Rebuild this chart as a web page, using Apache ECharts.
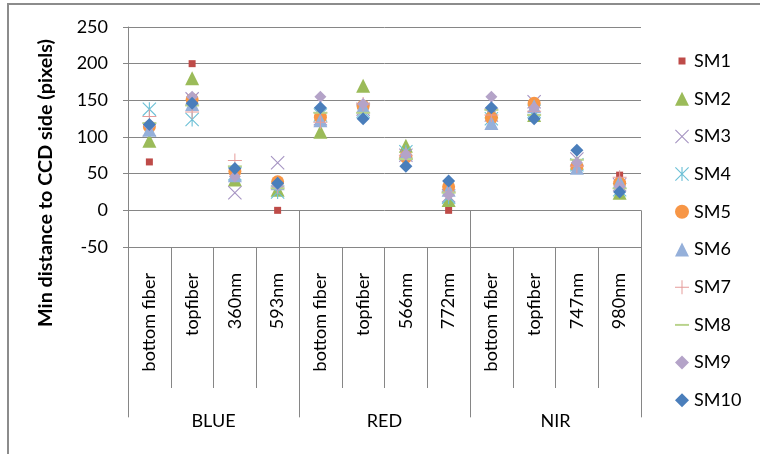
<!DOCTYPE html>
<html>
<head>
<meta charset="utf-8">
<script src="https://cdn.jsdelivr.net/npm/echarts@6/dist/echarts.min.js"></script>
<style>
html,body{margin:0;padding:0;background:#fff;}
#chart{width:760px;height:454px;}
</style>
</head>
<body>
<div id="chart"></div>
<script>
var categories = ['bottom fiber','topfiber','360nm','593nm','bottom fiber','topfiber','566nm','772nm','bottom fiber','topfiber','747nm','980nm'];
var groups = ['BLUE','RED','NIR'];
var yTicks = [-50, 0, 50, 100, 150, 200, 250];
var seriesNames = ['SM1','SM2','SM3','SM4','SM5','SM6','SM7','SM8','SM9','SM10'];

var SM1 = [66, 200, 55, 0, 125, 140, 70, 0, 130, 140, 60, 48];
var SM2 = [95, 180, 42, 28, 107, 170, 88, 14, 135, 130, 65, 24];
var SM3 = [110, 152, 24, 65, 125, 138, 75, 20, 130, 148, 70, 35];
var SM4 = [138, 124, 50, 25, 130, 135, 80, 18, 125, 135, 62, 28];
var SM5 = [114, 151, 53, 39, 127, 142, 73, 32, 126, 146, 60, 37];
var SM6 = [110, 145, 48, 37, 123, 142, 78, 28, 119, 142, 58, 39];
var SM7 = [128, 134, 68, 32, 120, 145, 75, 25, 130, 135, 60, 45];
var SM8 = [119, 143, 60, 30, 133, 133, 70, 24, 137, 130, 69, 30];
var SM9 = [115, 155, 46, 35, 155, 145, 76, 21, 155, 140, 65, 32];
var SM10 = [117, 146, 57, 37, 140, 125, 60, 40, 140, 125, 82, 25];

var seriesData = [SM1, SM2, SM3, SM4, SM5, SM6, SM7, SM8, SM9, SM10];

var a = 1.1;
var pSquare = 'path://M0 0 M20 20 M5 5 L15 5 L15 15 L5 15 Z';
var xShape = 'M0 ' + a + ' L' + a + ' 0 L20 ' + (20 - a) + ' L' + (20 - a) + ' 20 Z ' +
             'M' + (20 - a) + ' 0 L20 ' + a + ' L' + a + ' 20 L0 ' + (20 - a) + ' Z';
var pX = 'path://M0 0 M20 20 ' + xShape;
var pAst = 'path://M0 0 M20 20 ' + xShape + ' M9.2 0 L10.8 0 L10.8 20 L9.2 20 Z';
var pPlus = 'path://M0 0 M20 20 M9.3 0 L10.7 0 L10.7 20 L9.3 20 Z M0 9.3 L20 9.3 L20 10.7 L0 10.7 Z';
var pDash = 'path://M0 0 M20 20 M0 8.6 L20 8.6 L20 11.4 L0 11.4 Z';

var styles = [
  {symbol: pSquare, size: 14, color: '#BE4B48'},
  {symbol: 'triangle', size: 14, color: '#9BBB59'},
  {symbol: pX, size: 14, color: '#A593C2'},
  {symbol: pAst, size: 14, color: '#6CC0D6'},
  {symbol: 'circle', size: 13, color: '#F79646'},
  {symbol: 'triangle', size: 14, color: '#95B0DA'},
  {symbol: pPlus, size: 14, color: '#E59C9A'},
  {symbol: pDash, size: 14, color: '#B9D38C'},
  {symbol: 'diamond', size: 12, color: '#B4A3C8'},
  {symbol: 'diamond', size: 13, color: '#4A7EBB'}
];

var font = 'Lato';
var gridLeft = 128, gridTop = 27, gridRight = 641, gridBottom = 247;

var chart = echarts.init(document.getElementById('chart'), null, {renderer: 'canvas'});

var series = seriesNames.map(function (name, i) {
  return {
    name: name,
    type: 'scatter',
    xAxisIndex: 0,
    yAxisIndex: 0,
    symbol: styles[i].symbol,
    symbolSize: styles[i].size,
    itemStyle: {color: styles[i].color, opacity: 1},
    emphasis: {disabled: true},
    data: seriesData[i],
    z: 2 + i
  };
});

chart.setOption({
  animation: false,
  backgroundColor: '#fff',
  grid: {left: gridLeft, top: gridTop, right: 760 - gridRight, bottom: 454 - gridBottom, containLabel: false},
  legend: {
    orient: 'vertical',
    left: 675,
    top: 52,
    padding: 0,
    itemWidth: 14,
    itemHeight: 14,
    itemGap: 19.7,
    data: seriesNames,
    textStyle: {fontFamily: font, fontSize: 18, color: '#000'}
  },
  xAxis: [
    {
      type: 'category',
      data: categories,
      position: 'bottom',
      boundaryGap: true,
      axisLine: {show: true, onZero: false, lineStyle: {color: '#868686', width: 1}},
      axisTick: {show: true, interval: 0, length: 141, alignWithLabel: false, lineStyle: {color: '#868686'}},
      axisLabel: {interval: 0, rotate: 90, margin: 26, fontFamily: font, fontSize: 18, color: '#000'},
      splitLine: {show: false}
    },
    {
      type: 'category',
      data: groups,
      position: 'bottom',
      boundaryGap: true,
      axisLine: {show: false},
      axisTick: {show: true, interval: 0, length: 207, lineStyle: {color: '#868686'}},
      axisLabel: {interval: 0, margin: 165, fontFamily: font, fontSize: 18, color: '#000'},
      splitLine: {show: false}
    }
  ],
  yAxis: {
    type: 'value',
    min: yTicks[0],
    max: yTicks[yTicks.length - 1],
    interval: 50,
    axisLine: {show: true, lineStyle: {color: '#868686'}},
    axisTick: {show: true, length: 5, lineStyle: {color: '#868686'}},
    axisLabel: {margin: 20, fontFamily: font, fontSize: 18, color: '#000'},
    splitLine: {show: true, lineStyle: {color: '#868686', width: 1}}
  },
  graphic: [
    {
      type: 'rect',
      shape: {x: 8, y: 4, width: 900, height: 600},
      style: {fill: 'none', stroke: '#8c8c8c', lineWidth: 2},
      silent: true,
      z: -1
    },
    {
      type: 'text',
      x: 46,
      y: 183,
      rotation: Math.PI / 2,
      style: {
        text: 'Min distance to CCD side (pixels)',
        fontFamily: font,
        fontSize: 19.8,
        fontWeight: 'bold',
        fill: '#000',
        textAlign: 'center',
        textVerticalAlign: 'middle'
      },
      silent: true
    }
  ],
  series: series
});
</script>
</body>
</html>
